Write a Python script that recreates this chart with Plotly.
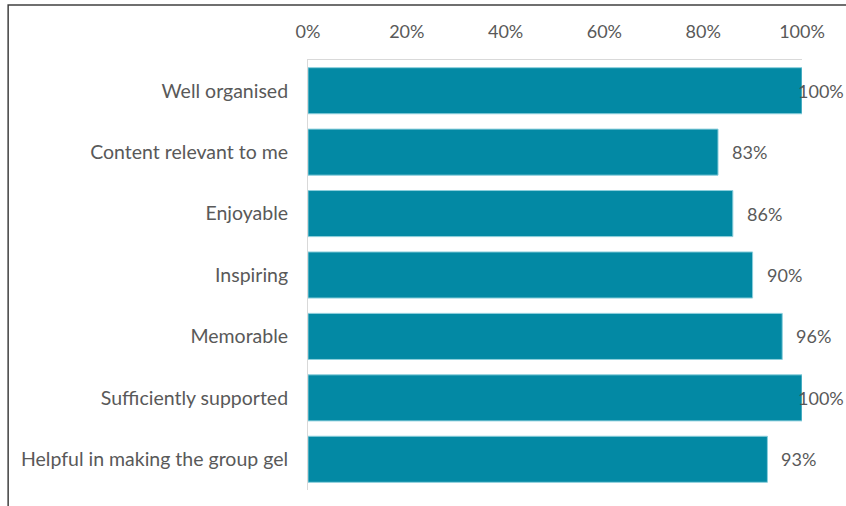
import plotly.graph_objects as go

# Survey items, top to bottom, and the share of respondents agreeing
items = [
    "Well organised",
    "Content relevant to me",
    "Enjoyable",
    "Inspiring",
    "Memorable",
    "Sufficiently supported",
    "Helpful in making the group gel",
]
shares = [1.00, 0.83, 0.86, 0.90, 0.96, 1.00, 0.93]
tick_values = [0, 0.2, 0.4, 0.6, 0.8, 1.0]
tick_labels = ["0%", "20%", "40%", "60%", "80%", "100%"]

BAR = "#0389A4"
TEXT = "#595959"
FONT = "Lato"

fig = go.Figure(
    go.Bar(
        x=shares,
        y=items,
        orientation="h",
        marker=dict(color=BAR, line=dict(color="#8CCFDC", width=1)),
        hoverinfo="skip",
    )
)

# Value labels to the right of each bar; full bars keep their label inside the frame
for item, v in zip(items, shares):
    fig.add_annotation(
        x=v, y=item, xref="x", yref="y",
        text=f"{v:.0%}", showarrow=False,
        xanchor="left", xshift=12 if v < 0.99 else -6,
        font=dict(family=FONT, size=18, color=TEXT),
    )

# Outer frame: top and left edges
fig.add_shape(
    type="path", xref="paper", yref="paper",
    path="M -0.607 -0.1 L -0.607 1.128 L 1.2 1.128",
    line=dict(color="#404040", width=1.5),
)

fig.update_layout(
    width=846, height=506,
    margin=dict(l=308, r=44, t=60, b=16),
    paper_bgcolor="white", plot_bgcolor="white",
    bargap=0.25,
    showlegend=False,
    font=dict(family=FONT, size=18, color=TEXT),
    xaxis=dict(
        range=[0, 1], side="top",
        tickvals=tick_values, ticktext=tick_labels,
        showgrid=False, zeroline=False,
        showline=True, linecolor="#D9D9D9", linewidth=1,
        ticks="", ticklabelstandoff=14,
        tickfont=dict(family=FONT, size=18, color=TEXT),
    ),
    yaxis=dict(
        autorange="reversed",
        showgrid=False, zeroline=False,
        showline=True, linecolor="#D9D9D9", linewidth=1,
        ticks="", ticklabelstandoff=15,
        tickfont=dict(family=FONT, size=19.5, color=TEXT),
    ),
)

fig.write_html("out.html")
